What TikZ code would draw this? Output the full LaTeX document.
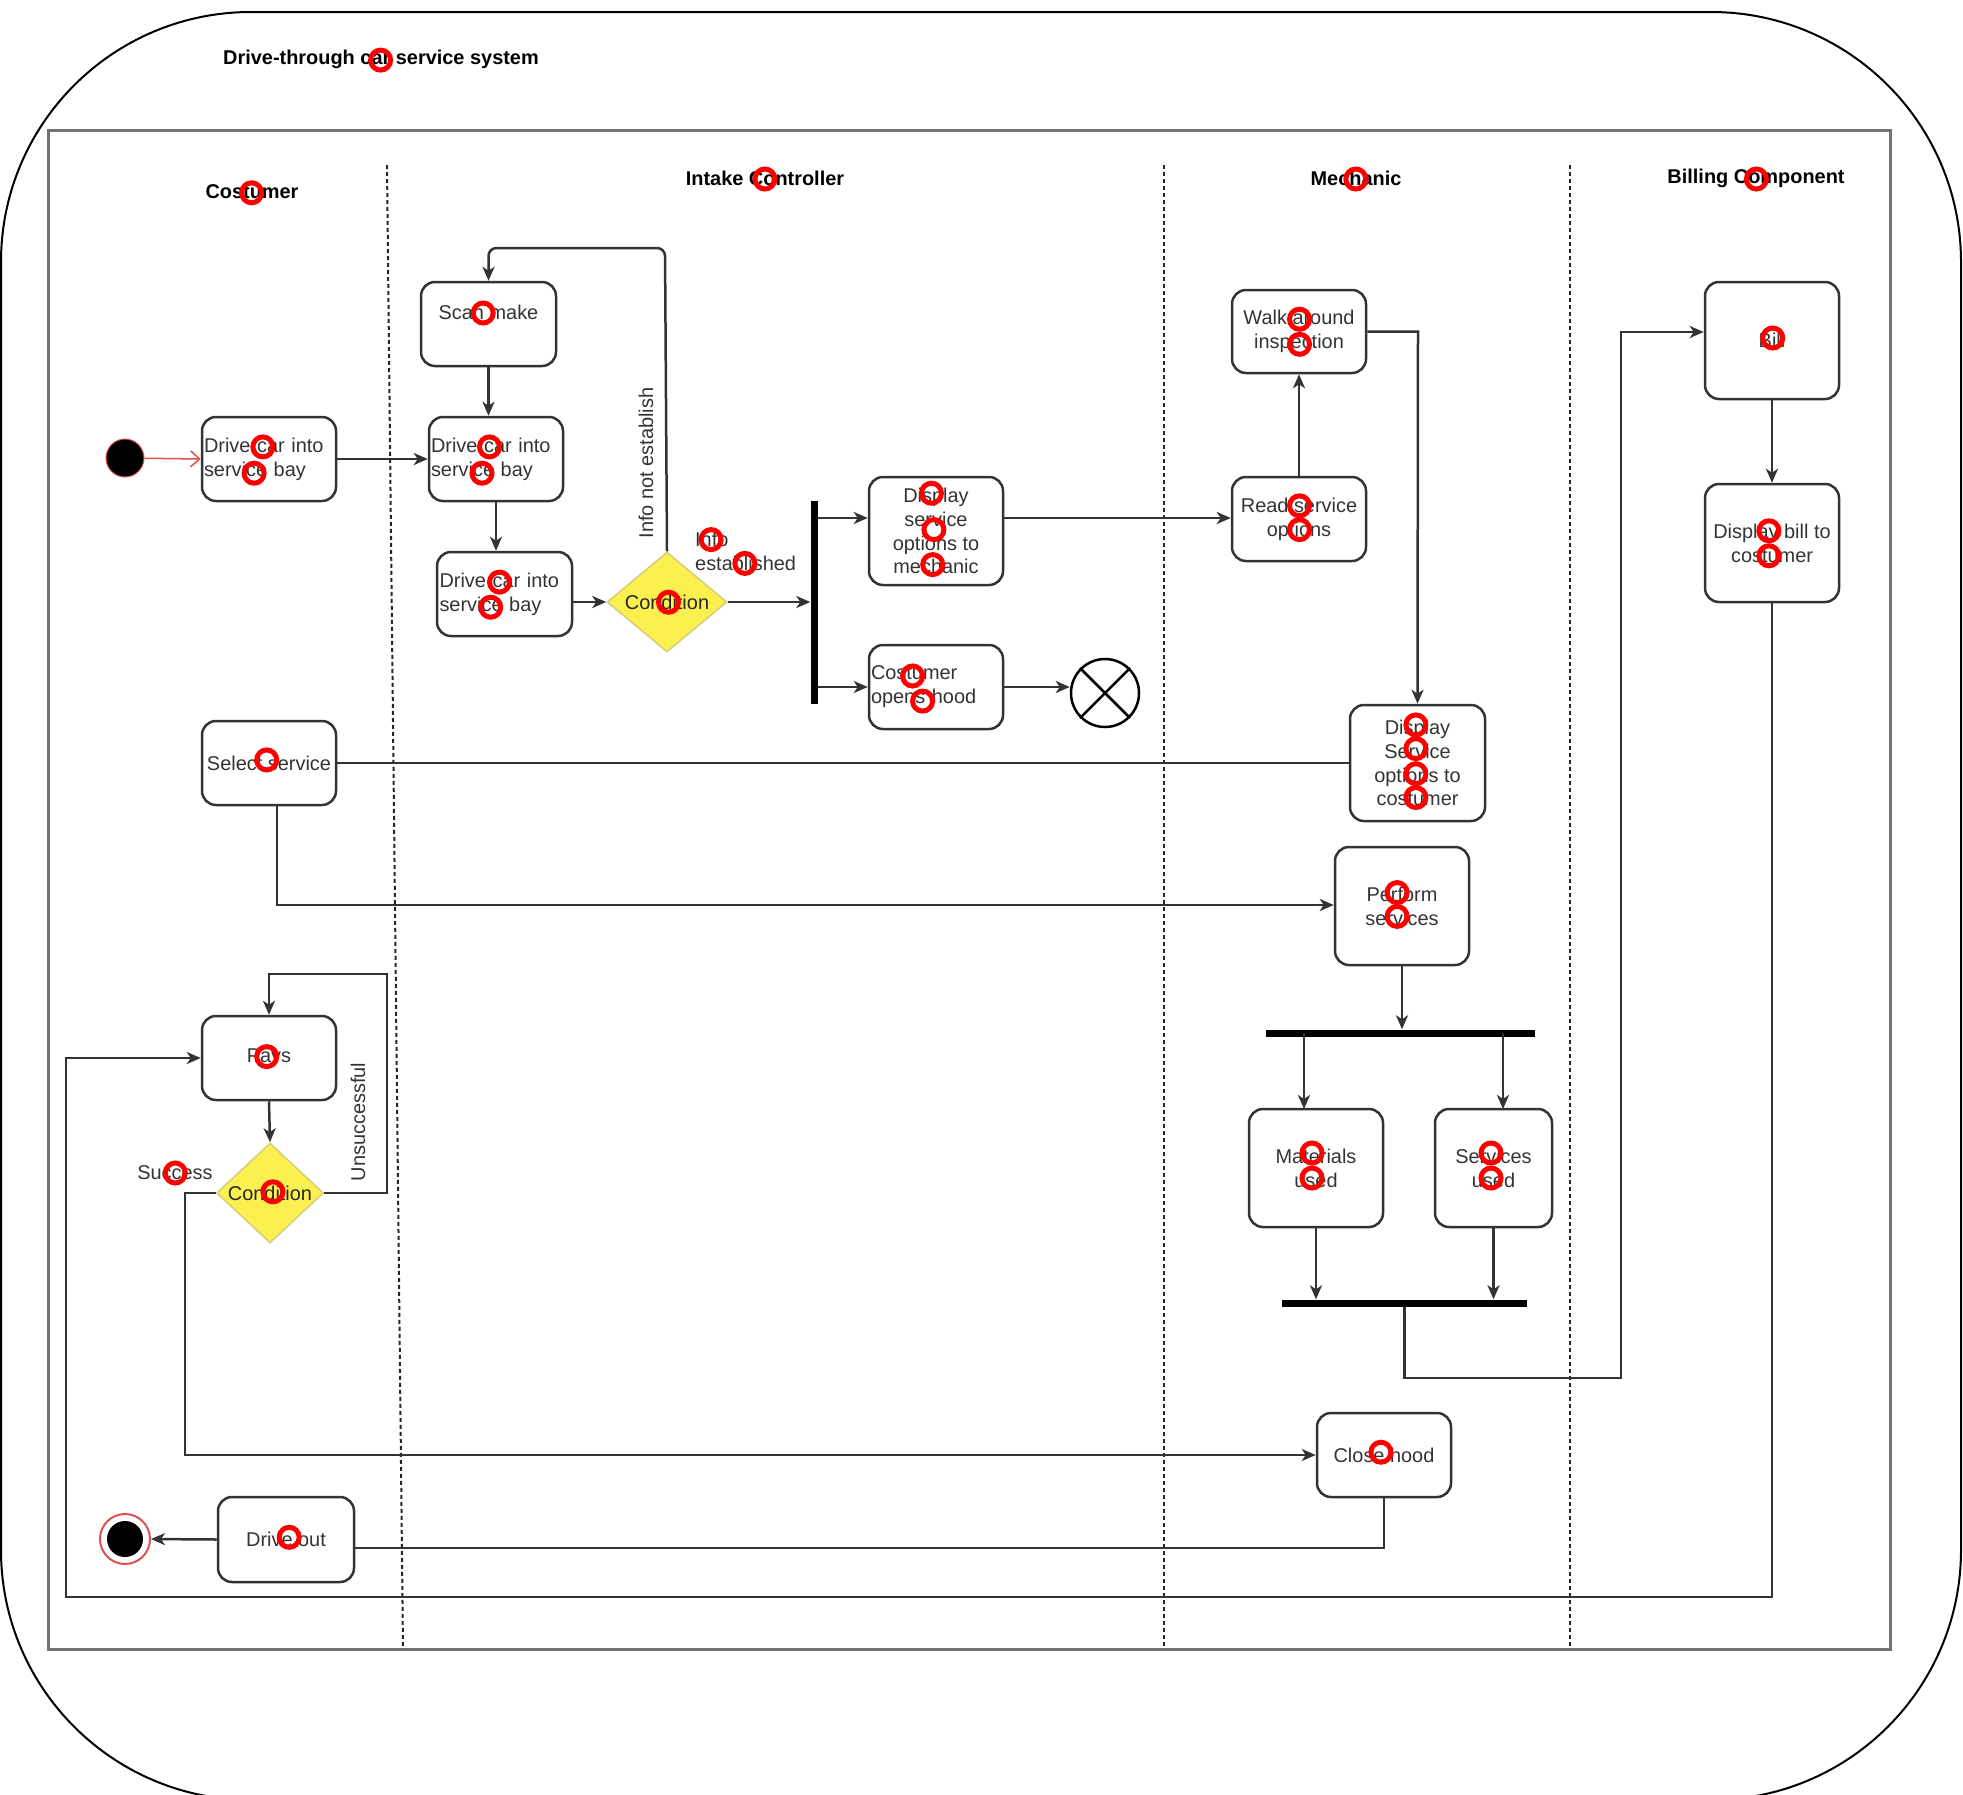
\documentclass[tikz,border=0pt]{standalone}
\usepackage{fontspec}
\setmainfont{Liberation Sans}
\usetikzlibrary{arrows.meta,shapes.geometric}
\definecolor{condfill}{RGB}{250,240,80}
\definecolor{conddraw}{RGB}{215,205,120}
\definecolor{startred}{RGB}{225,80,80}
\begin{document}
\begin{tikzpicture}[x=1bp,y=-1bp,
  every node/.style={font=\fontsize{20}{24}\selectfont, text=black!80, inner sep=0pt},
  box/.style 2 args={rectangle, rounded corners=14bp, draw=black!80, line width=2.5bp,
    fill=white, minimum width=#1, minimum height=#2, align=center},
  lefttext/.style={align=left, text width=#1},
  cond/.style={diamond, draw=conddraw, fill=condfill, line width=1.5bp,
    minimum width=120bp, minimum height=100bp, text=black!85},
  bar/.style={rectangle, fill=black, draw=none},
  lbl/.style={text=black!80},
  head/.style={font=\fontsize{20}{24}\selectfont\bfseries, text=black},
  conn/.style={draw=black!80, line width=2.5bp},
  arr/.style={conn, -{Stealth[length=14bp,width=12bp,inset=4bp]}},
  lane/.style={draw=black!85, line width=2bp, dash pattern=on 4bp off 3bp},
  redring/.style={draw=red, line width=5bp}
]
\useasboundingbox (0,0) rectangle (1963,1795);

% outer frame and pool
\draw[line width=2bp, rounded corners=250bp] (1,12) rectangle (1961,1800);
\draw[draw=black!55, line width=3bp] (48,130) rectangle (1890,1649);

% lane separators
\draw[lane] (387,165) -- (403,1649);
\draw[lane] (1164,165) -- (1164,1649);
\draw[lane] (1570,165) -- (1570,1649);

% titles
\node[head] (title) at (381,59) {Drive-through car service system};
\node[head] (hcust) at (252,192) {Costumer};
\node[head] (hint) at (765,178) {Intake Controller};
\node[head] (hmech) at (1356,178) {Mechanic};
\node[head] (hbill) at (1756,178) {Billing Component};

% customer lane
\node[circle, fill=black, draw=startred, line width=1bp, minimum size=38bp] (st) at (125,458) {};
\node[box={134bp}{84bp}, lefttext=130bp] (n1) at (269,459) {Drive car into\\service bay};
\node[box={134bp}{84bp}] (sel) at (269,763) {Select service};
\node[box={134bp}{84bp}] (py) at (269,1058) {Pays};
\node[cond, minimum width=107bp] (c2) at (270,1193) {Condition};
\node[box={136bp}{85bp}] (dro) at (286,1539.5) {Drive out};
\node[circle, draw=startred, line width=2bp, fill=white, minimum size=50bp] (en) at (125,1539) {};
\fill[black] (en.center) circle[radius=18bp];

% intake controller lane
\node[box={135bp}{84bp}] (scan) at (488.5,324) {Scan make\\\mbox{}};
\node[box={134bp}{84bp}, lefttext=130bp] (n2) at (496,459) {Drive car into\\service bay};
\node[box={135bp}{84bp}, lefttext=130bp] (n3) at (504.5,594) {Drive car into\\service bay};
\node[cond] (c1) at (667,602) {Condition};
\node[bar, minimum width=7bp, minimum height=203bp] (f1) at (814,602) {};
\node[box={134bp}{108bp}] (dm) at (936,531) {Display\\service\\options to\\mechanic};
\node[box={134bp}{84bp}, lefttext=130bp] (oh) at (936,687) {Costumer\\opens hood};
\node[circle, draw=black, line width=2.5bp, minimum size=68bp] (ff) at (1105,693) {};
\draw[line width=2.5bp] (ff.north west) -- (ff.south east) (ff.north east) -- (ff.south west);

% mechanic lane
\node[box={134bp}{83bp}] (wk) at (1299,331.5) {Walk around\\inspection};
\node[box={134bp}{84bp}] (rd) at (1299,519) {Read service\\options};
\node[box={135bp}{116bp}] (dc) at (1417.5,763) {Display\\Service\\options to\\costumer};
\node[box={134bp}{118bp}] (pf) at (1402,906) {Perform\\services};
\node[bar, minimum width=269bp, minimum height=7bp] (f2) at (1400.5,1033) {};
\node[box={134bp}{118bp}] (mu) at (1316,1168) {Materials\\used};
\node[box={117bp}{118bp}] (su) at (1493.5,1168) {Services\\used};
\node[bar, minimum width=245bp, minimum height=7bp] (jn) at (1404.5,1303) {};
\node[box={134bp}{84bp}] (ch) at (1384,1455) {Close hood};

% billing lane
\node[box={134bp}{117bp}] (bl) at (1772,340.5) {Bill};
\node[box={134bp}{118bp}] (db) at (1772,543) {Display bill to\\costumer};

% edge labels
\node[lbl, rotate=90] (lnot) at (646,463) {Info not establish};
\node[lbl, align=left, anchor=west] (lest) at (695,551) {Info\\established};
\node[lbl] (lsucc) at (175,1173) {Success};
\node[lbl, rotate=90] (lunsucc) at (358,1122) {Unsuccessful};

% waypoints
\coordinate (w1) at (665,248);
\coordinate (w2) at (488.5,248);
\coordinate (w3) at (1304,1033);
\coordinate (w4) at (1304,1109);
\coordinate (w5) at (1503,1033);
\coordinate (w6) at (1503,1109);
\coordinate (w7) at (1404.5,1378);
\coordinate (w8) at (1621,1378);
\coordinate (w9) at (1621,332);
\coordinate (w10) at (1772,1597);
\coordinate (w11) at (66,1597);
\coordinate (w12) at (66,1058);
\coordinate (w13) at (387,1193);
\coordinate (w14) at (387,974);
\coordinate (w15) at (269,974);
\coordinate (w16) at (185,1193);
\coordinate (w17) at (185,1455);
\coordinate (w18) at (1384,1548);
\coordinate (w19) at (354,1548);
\coordinate (w20) at (277,805);
\coordinate (w21) at (277,905);
\coordinate (w22) at (1418,331.5);

% connectors
\draw[draw=startred, line width=1.5bp, -{Straight Barb[length=9bp,width=16bp]}] (st) -- (n1.west);
\draw[arr] (n1) -- (n2);
\draw[arr] (scan) -- (scan.south |- n2.north);
\draw[arr] (n2.south) -- (n2.south |- n3.north);
\draw[arr] (n3.east |- c1.west) -- (c1.west);
\draw[arr, rounded corners=8bp] (c1.north) -- (w1) -- (w2) -- (scan.north);
\draw[arr] (c1.east) -- (f1.west |- c1.east);
\draw[arr] (f1.east |- 0,518) -- (dm.west |- 0,518);
\draw[arr] (f1.east |- oh.west) -- (oh.west);
\draw[arr] (oh.east) -- (ff.west |- oh.east);
\draw[arr] (dm.east |- 0,518) -- (rd.west |- 0,518);
\draw[arr] (rd.north) -- (wk.south);
\draw[arr] (wk.east) -- (w22) -- (dc.north);
\draw[conn] (sel.east) -- (dc.west);
\draw[arr] (w20) -- (w21) -- (pf.west |- w21);
\draw[arr] (pf.south) -- (pf.south |- f2.north);
\draw[arr] (w3) -- (w4);
\draw[arr] (w5) -- (w6);
\draw[arr] (mu.south) -- (mu.south |- jn.north);
\draw[arr] (su.south) -- (su.south |- jn.north);
\draw[arr] (jn.south) -- (w7) -- (w8) -- (w9) -- (bl.west |- w9);
\draw[arr] (bl.south) -- (db.north);
\draw[arr] (db.south) -- (w10) -- (w11) -- (w12) -- (py.west);
\draw[arr] (py.south) -- (c2.north);
\draw[arr] (c2.east) -- (w13) -- (w14) -- (w15) -- (py.north);
\draw[arr] (c2.west) -- (w16) -- (w17) -- (ch.west);
\draw[conn] (ch.south) -- (w18) -- (w19);
\draw[arr] (dro.west) -- (en.east);

% red rings over the lettering
\foreach \px/\py in {380.6/60.1, 251.6/192.8, 764.9/179.0, 1355.8/179.0, 1756.4/179.0,
  483.2/313.0, 262.9/446.9, 254.1/473.2, 489.5/446.9, 482.0/473.2, 499.5/582.1, 490.7/607.2,
  668.5/602.2, 711.1/539.6, 744.9/563.4, 931.4/493.2, 933.9/529.6, 932.7/564.6,
  912.6/676.0, 922.6/701.1, 1299.5/319.2, 1299.5/344.3, 1299.5/505.8, 1299.5/529.6,
  1772.7/338.0, 1768.9/530.8, 1768.9/555.8, 266.7/759.9,
  1415.9/724.9, 1415.9/748.6, 1415.9/773.7, 1415.9/797.5, 1397.1/892.6, 1397.1/916.4,
  1312.0/1153.0, 1312.0/1178.0, 1491.0/1153.0, 1491.0/1178.0, 266.7/1056.6,
  175.3/1173.0, 272.9/1191.8, 1380.9/1452.2, 289.2/1537.3}
  \draw[redring] (\px,\py) circle[radius=10bp];
\end{tikzpicture}
\end{document}
